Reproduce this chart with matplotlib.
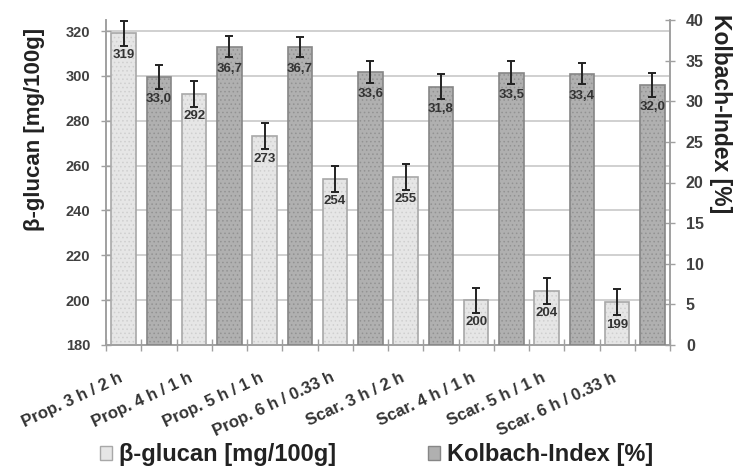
import matplotlib
matplotlib.use("Agg")
import matplotlib.pyplot as plt
import numpy as np
from matplotlib.patches import Patch

plt.rcParams['font.family'] = ['Liberation Sans', 'DejaVu Sans']
plt.rcParams['hatch.linewidth'] = 0.6

categories = ["Prop. 3 h / 2 h", "Prop. 4 h / 1 h", "Prop. 5 h / 1 h", "Prop. 6 h / 0.33 h",
              "Scar. 3 h / 2 h", "Scar. 4 h / 1 h", "Scar. 5 h / 1 h", "Scar. 6 h / 0.33 h"]
glucan = [319, 292, 273, 254, 255, 200, 204, 199]
glucan_err = [5.5, 5.8, 5.8, 5.8, 5.8, 5.6, 5.8, 5.8]
kolbach = [33.0, 36.7, 36.7, 33.6, 31.8, 33.5, 33.4, 32.0]
kolbach_err = [1.5, 1.3, 1.2, 1.35, 1.5, 1.4, 1.3, 1.5]
left_ticks = [180, 200, 220, 240, 260, 280, 300, 320]
right_ticks = [0, 5, 10, 15, 20, 25, 30, 35, 40]
legend_labels = ["β-glucan [mg/100g]", "Kolbach-Index [%]"]

W, H = 745, 466
fig = plt.figure(figsize=(W / 100, H / 100), dpi=100)
ax1 = fig.add_axes([106 / W, (H - 345) / H, 564 / W, 325 / H])
ax2 = ax1.twinx()

n = len(categories)
xg = np.arange(n) * 2
xk = xg + 1
bw = 0.7

light_face, light_hatch, light_edge = "#e6e6e6", "#cfcfcf", "#a8a8a8"
dark_face, dark_hatch, dark_edge = "#b0b0b0", "#929292", "#868686"

# Beta-glucan bars (left axis)
ax1.bar(xg, glucan, width=bw, color=light_face, edgecolor=light_hatch, hatch="....",
        linewidth=0, zorder=2)
ax1.bar(xg, glucan, width=bw, fill=False, edgecolor=light_edge, linewidth=1.2, zorder=3)
ax1.errorbar(xg, glucan, yerr=glucan_err, fmt="none", ecolor="#222222", elinewidth=1.4,
             capsize=3, capthick=1.4, zorder=4)
for x, v in zip(xg, glucan):
    ax1.annotate(f"{v}", (x, v), xytext=(0, -16), textcoords="offset points",
                 ha="center", va="center", fontsize=9.5, fontweight="bold", color="#333333",
                 zorder=5)

# Kolbach bars (right axis)
ax2.bar(xk, kolbach, width=bw, color=dark_face, edgecolor=dark_hatch, hatch="....",
        linewidth=0, zorder=2)
ax2.bar(xk, kolbach, width=bw, fill=False, edgecolor=dark_edge, linewidth=1.2, zorder=3)
ax2.errorbar(xk, kolbach, yerr=kolbach_err, fmt="none", ecolor="#222222", elinewidth=1.4,
             capsize=3, capthick=1.4, zorder=4)
for x, v in zip(xk, kolbach):
    ax2.annotate(f"{v:.1f}".replace(".", ","), (x, v), xytext=(0, -16),
                 textcoords="offset points", ha="center", va="center", fontsize=9.5,
                 fontweight="bold", color="#333333", zorder=5)

# Axes ranges
ax1.set_xlim(-0.5, 2 * n - 0.5)
ax1.set_ylim(180, 180 + 140 * 325 / 314)
ax2.set_ylim(0, 40)

spine_col = "#a0a0a0"
tick_col = "#404040"

ax1.set_yticks(left_ticks)
ax1.set_yticklabels([str(t) for t in left_ticks], fontsize=10.5, fontweight="bold", color=tick_col)
ax2.set_yticks(right_ticks)
ax2.set_yticklabels([str(t) for t in right_ticks], fontsize=11.5, fontweight="bold", color=tick_col)

ax1.yaxis.grid(True, color="#c8c8c8", linewidth=1.2)
ax1.set_axisbelow(True)
ax1.tick_params(axis="y", direction="inout", length=7, width=1, color=spine_col, pad=8)
ax2.tick_params(axis="y", direction="inout", length=7, width=1, color=spine_col, pad=8)

# x axis: minor ticks at slot boundaries, labels per category pair
ax1.set_xticks(np.arange(-0.5, 2 * n, 1.0), minor=True)
ax1.set_xticks(xg - 0.15)
ax1.set_xticklabels(categories, rotation=25, ha="right", va="top", rotation_mode="anchor",
                    fontsize=12, fontweight="bold", color="#333333")
ax1.tick_params(axis="x", which="major", length=0, pad=18)
ax1.tick_params(axis="x", which="minor", direction="inout", length=8, width=1, color=spine_col)

for ax in (ax1, ax2):
    ax.spines["top"].set_visible(False)
    for s in ("left", "right", "bottom"):
        ax.spines[s].set_color(spine_col)
        ax.spines[s].set_linewidth(1.2)
ax2.patch.set_visible(False)

ax1.set_ylabel("β-glucan [mg/100g]", fontsize=16, fontweight="bold", color="#222222",
               va="center")
ax1.yaxis.set_label_coords((35 - 106) / 564, (345 - 129) / 325)
ax2.set_ylabel("Kolbach-Index [%]", fontsize=16.5, fontweight="bold", color="#222222",
               rotation=270, va="center")
ax2.yaxis.set_label_coords((721 - 106) / 564, (345 - 114) / 325)

handles = [Patch(facecolor=light_face, edgecolor=light_edge, linewidth=1),
           Patch(facecolor=dark_face, edgecolor=dark_edge, linewidth=1)]
for h, lab, x0 in zip(handles, legend_labels, [100, 428]):
    fig.legend([h], [lab], loc="center left", bbox_to_anchor=(x0 / W, 1 - 455 / H),
               frameon=False, prop={"size": 17, "weight": "bold"}, handlelength=0.5,
               handleheight=0.5, handletextpad=0.3, borderpad=0, borderaxespad=0,
               labelcolor="#222222")

fig.savefig("out.png", dpi=100)
